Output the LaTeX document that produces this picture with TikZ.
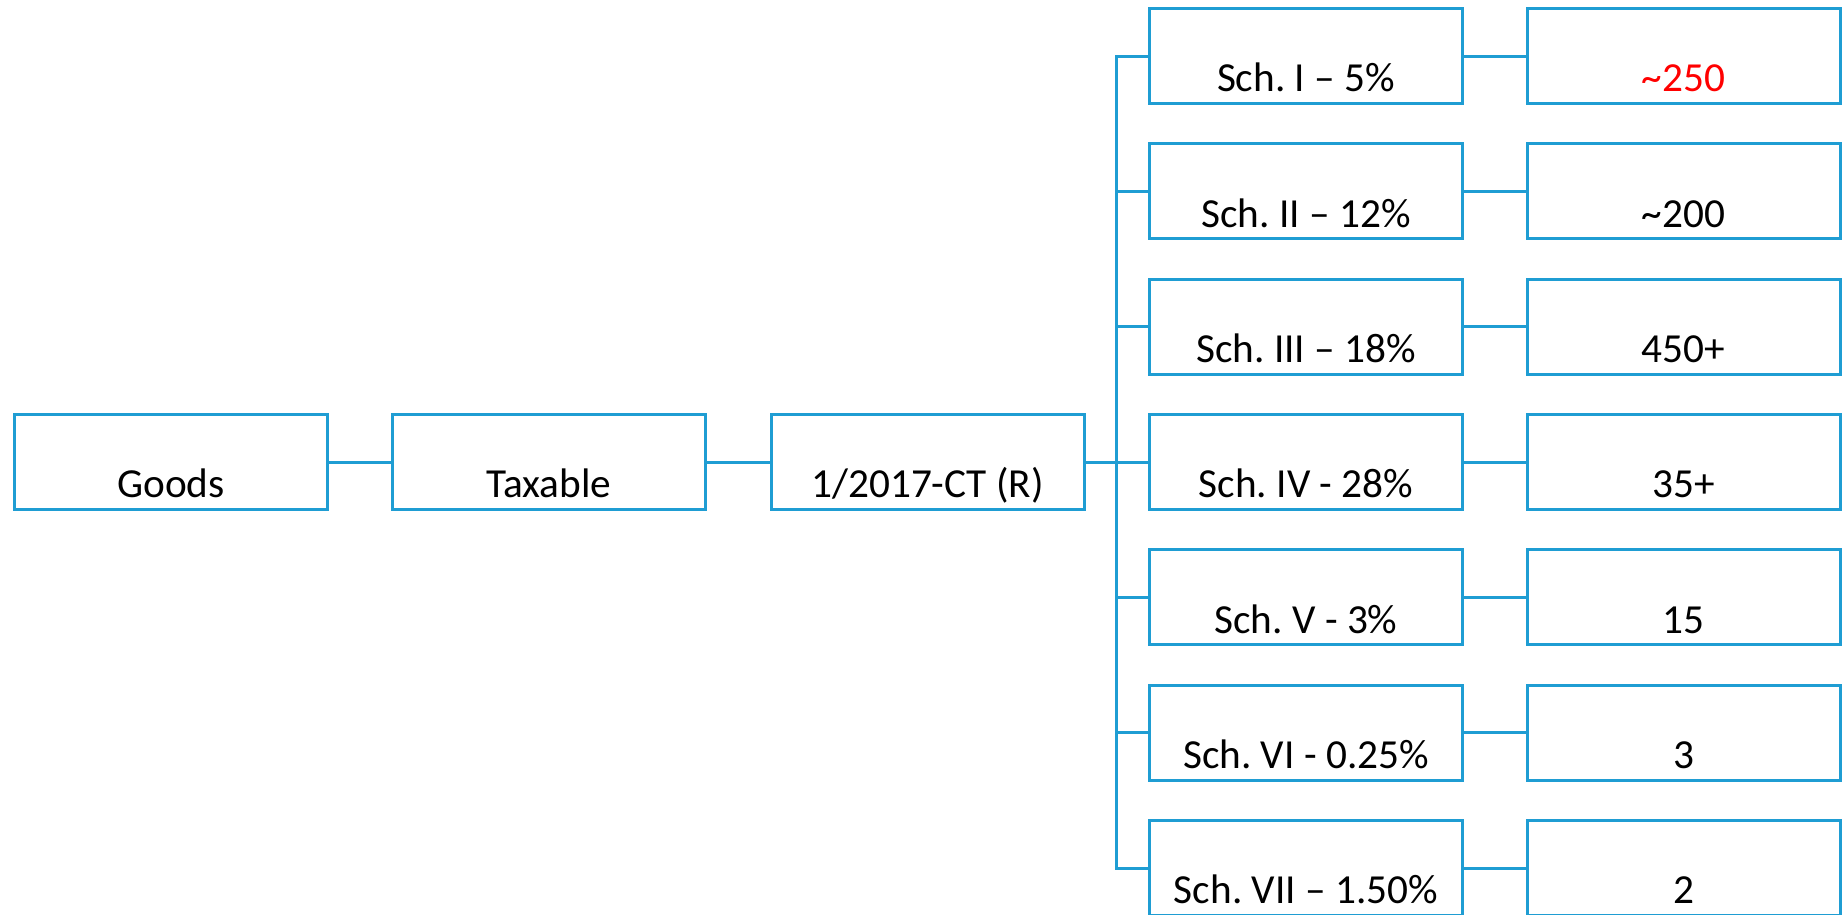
\documentclass[tikz,border=0pt]{standalone}
\usepackage{fontspec}
\setmainfont{Carlito}
\frenchspacing
\definecolor{lineblue}{RGB}{31,157,211}
\definecolor{txtred}{RGB}{255,0,0}
\tikzset{
  box/.style={draw=lineblue, line width=1.7pt, fill=white, rectangle,
    minimum width=313*0.02cm, minimum height=95*0.02cm, inner sep=0pt,
    text height=1.43cm, text depth=0pt, align=center,
    font=\fontsize{23.5pt}{28pt}\selectfont},
  conn/.style={draw=lineblue, line width=1.7pt}
}
\begin{document}
\begin{tikzpicture}[x=0.02cm,y=-0.02cm]
\useasboundingbox (0,0) rectangle (1842,914);
\clip (0,0) rectangle (1842,914);
% left chain
\node[box] (goods) at (171,462) {Goods};
\node[box] (taxable) at (549,462) {Taxable};
\node[box] (ct) at (927.5,462) {1/2017-CT (R)};
% schedule boxes
\node[box] (s1) at (1306,56) {Sch. I -- 5\%};
\node[box] (s2) at (1306,191.3) {Sch. II -- 12\%};
\node[box] (s3) at (1306,326.7) {Sch. III -- 18\%};
\node[box] (s4) at (1306,462) {Sch. IV - 28\%};
\node[box] (s5) at (1306,597.3) {Sch. V - 3\%};
\node[box] (s6) at (1306,732.7) {Sch. VI - 0.25\%};
\node[box] (s7) at (1306,868) {Sch. VII -- 1.50\%};
% value boxes
\node[box, text=txtred] (v1) at (1683.5,56) {\textasciitilde250};
\node[box] (v2) at (1683.5,191.3) {\textasciitilde200};
\node[box] (v3) at (1683.5,326.7) {450+};
\node[box] (v4) at (1683.5,462) {35+};
\node[box] (v5) at (1683.5,597.3) {15};
\node[box] (v6) at (1683.5,732.7) {3};
\node[box] (v7) at (1683.5,868) {2};
% bus
\coordinate (bustop) at (1116,56);
\coordinate (busbot) at (1116,868);
\coordinate (busmid) at (1116,462);
\draw[conn] (goods.east) -- (taxable.west);
\draw[conn] (taxable.east) -- (ct.west);
\draw[conn] (ct.east) -- (busmid);
\draw[conn, line cap=rect] (bustop) -- (busbot);
\foreach \i in {1,...,7}{
  \draw[conn] (s\i.west -| bustop) -- (s\i.west);
  \draw[conn] (s\i.east) -- (v\i.west);
}
\end{tikzpicture}
\end{document}
